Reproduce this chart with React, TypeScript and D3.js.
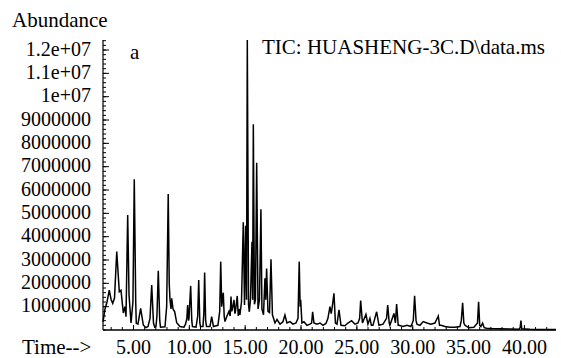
import React from "react";
import * as d3 from "d3";

// Retention time (min) and abundance (millions of counts)
const retentionTime = [
  2.27, 2.45, 2.63, 2.83, 3.0, 3.14, 3.3, 3.5, 3.73, 3.88, 4.09, 4.24, 4.33, 4.48, 4.6, 4.78, 4.95, 5.07, 5.2, 5.25,
  5.4, 5.64, 5.88, 6.12, 6.3, 6.48, 6.63, 6.79, 6.9, 7.01, 7.1, 7.22, 7.35, 7.42, 7.82, 7.97, 8.11, 8.2, 8.27, 8.36,
  8.42, 8.54, 8.69, 8.87, 9.16, 9.52, 9.66, 9.78, 9.85, 9.93, 9.97, 10.12, 10.22, 10.28, 10.6, 10.75, 10.84, 10.94, 11.0, 11.22,
  11.3, 11.37, 11.46, 11.54, 11.85, 12.0, 12.16, 12.56, 12.72, 12.81, 12.9, 12.98, 13.04, 13.12, 13.19, 13.37, 13.55, 13.66, 13.73, 13.8,
  13.86, 14.0, 14.08, 14.13, 14.29, 14.38, 14.44, 14.53, 14.67, 14.83, 14.94, 15.04, 15.12, 15.19, 15.3, 15.37, 15.47, 15.61, 15.67, 15.73,
  15.83, 15.92, 16.03, 16.15, 16.28, 16.41, 16.5, 16.64, 16.77, 16.84, 16.92, 17.04, 17.18, 17.31, 17.44, 17.67, 17.85, 18.12, 18.38, 18.56,
  18.74, 19.01, 19.28, 19.55, 19.73, 19.84, 19.92, 19.97, 20.08, 20.26, 20.53, 20.8, 20.95, 21.04, 21.16, 21.43, 21.7, 21.97, 22.23, 22.41,
  22.59, 22.7, 22.77, 22.95, 23.08, 23.22, 23.4, 23.58, 23.93, 24.2, 24.53, 24.83, 25.1, 25.25, 25.34, 25.5, 25.81, 25.99, 26.17, 26.3,
  26.44, 26.77, 26.98, 27.34, 27.66, 27.76, 27.9, 27.96, 28.32, 28.45, 28.56, 28.7, 28.77, 29.13, 29.49, 29.84, 30.05, 30.17, 30.3, 30.38,
  30.65, 30.94, 31.28, 31.63, 31.99, 32.29, 32.4, 32.53, 32.89, 33.33, 33.78, 34.23, 34.35, 34.47, 34.58, 34.68, 35.03, 35.48, 35.8, 35.9,
  36.0, 36.11, 36.26, 36.4, 36.62, 37.1, 37.81, 38.71, 39.51, 39.62, 39.69, 39.76, 40.5, 41.39, 42.29, 42.83,
];

const abundanceM = [
  0.35, 0.9, 1.2, 1.71, 1.3, 1.14, 1.37, 3.36, 1.64, 1.7, 0.73, 1.0, 0.57, 4.93, 1.5, 0.3, 1.2, 6.46, 1.2, 0.29,
  0.25, 0.93, 0.21, 0.1, 0.15, 0.5, 1.93, 0.3, 0.12, 0.15, 0.6, 2.54, 0.4, 0.12, 0.14, 1.0, 5.83, 2.0, 1.29, 0.9,
  1.36, 0.9, 0.78, 0.31, 0.15, 0.12, 0.25, 0.5, 1.07, 0.4, 0.5, 1.89, 0.4, 0.15, 0.12, 0.6, 2.14, 0.3, 0.15, 0.15,
  0.7, 2.46, 0.4, 0.15, 0.15, 0.57, 0.15, 0.2, 0.8, 2.93, 1.0, 1.4, 1.6, 0.6, 0.36, 0.6, 0.8, 0.6, 1.43, 0.8,
  0.9, 1.29, 0.7, 0.8, 1.46, 0.6, 0.9, 0.65, 1.2, 4.62, 1.07, 4.47, 1.3, 12.43, 1.1, 0.78, 1.29, 3.78, 1.3, 8.82,
  1.1, 1.3, 7.17, 0.9, 1.3, 5.17, 0.9, 0.65, 2.22, 1.3, 2.64, 0.8, 0.75, 3.03, 0.65, 0.3, 0.45, 0.25, 0.35, 0.64,
  0.3, 0.36, 0.25, 0.3, 0.5, 2.93, 1.0, 1.29, 0.3, 0.35, 0.2, 0.25, 0.3, 0.78, 0.3, 0.25, 0.3, 0.2, 0.28, 0.5,
  1.0, 0.7, 0.9, 1.57, 0.3, 0.25, 0.86, 0.2, 0.18, 0.3, 0.4, 0.25, 0.3, 0.5, 1.26, 0.3, 0.67, 0.25, 0.5, 0.2,
  0.2, 0.78, 0.2, 0.25, 0.5, 1.07, 0.3, 0.2, 0.71, 0.3, 1.11, 0.2, 0.2, 0.15, 0.2, 0.15, 0.4, 1.47, 0.4, 0.25,
  0.2, 0.36, 0.3, 0.25, 0.3, 0.6, 0.2, 0.2, 0.15, 0.12, 0.12, 0.15, 0.4, 1.17, 0.3, 0.2, 0.1, 0.12, 0.3, 1.21,
  0.2, 0.15, 0.29, 0.1, 0.08, 0.06, 0.05, 0.04, 0.03, 0.1, 0.4, 0.05, 0.03, 0.02, 0.02, 0.02,
];

const yTickValues = [1e6, 2e6, 3e6, 4e6, 5e6, 6e6, 7e6, 8e6, 9e6, 1e7, 1.1e7, 1.2e7];
const yTickLabels = [
  "1000000", "2000000", "3000000", "4000000", "5000000", "6000000",
  "7000000", "8000000", "9000000", "1e+07", "1.1e+07", "1.2e+07",
];
const xTickValues = [5, 10, 15, 20, 25, 30, 35, 40];
const xTickLabels = ["5.00", "10.00", "15.00", "20.00", "25.00", "30.00", "35.00", "40.00"];

const titleText = "TIC: HUASHENG-3C.D\\data.ms";
const yAxisTitle = "Abundance";
const xAxisTitle = "Time-->";
const panelLabel = "a";

export default function App() {
  const W = 561;
  const H = 358;
  const left = 103;
  const right = 556;
  const top = 40;
  const bottom = 330;

  const x = d3.scaleLinear().domain([2.27, 42.83]).range([left, right]);
  const y = d3.scaleLinear().domain([0, 12.43e6]).range([bottom, top]);

  const data = retentionTime.map((t, i) => [t, abundanceM[i] * 1e6] as [number, number]);
  const line = d3
    .line<[number, number]>()
    .x((d) => x(d[0]))
    .y((d) => y(Math.min(d[1], 12.43e6)));

  const minorY = d3.range(0, 12.41e6, 2e5);
  const minorX = d3.range(3, 43, 1);

  const txt: React.CSSProperties = { fontFamily: '"Liberation Serif", "Times New Roman", Times, serif' };

  return (
    <svg
      width={W}
      height={H}
      style={{ position: "absolute", left: 0, top: 0, background: "#fff" }}
    >
      <rect x={0} y={0} width={W} height={H} fill="#fff" />
      {/* trace */}
      <path d={line(data) || ""} fill="none" stroke="#000" strokeWidth={1.5} strokeLinejoin="miter" />

      {/* axes */}
      <line x1={left} x2={left} y1={top} y2={bottom} stroke="#000" strokeWidth={1.2} />
      <line x1={left} x2={right} y1={bottom} y2={bottom} stroke="#000" strokeWidth={1.4} />

      {minorY.map((v, i) => (
        <line key={"my" + i} x1={left} x2={left + 3} y1={y(v)} y2={y(v)} stroke="#000" strokeWidth={1} />
      ))}
      {yTickValues.map((v, i) => (
        <line key={"My" + i} x1={left} x2={left + 6} y1={y(v)} y2={y(v)} stroke="#000" strokeWidth={1} />
      ))}
      {minorX.map((v, i) => (
        <line key={"mx" + i} x1={x(v)} x2={x(v)} y1={bottom} y2={bottom - 3} stroke="#000" strokeWidth={1} />
      ))}
      {xTickValues.map((v, i) => (
        <line key={"Mx" + i} x1={x(v)} x2={x(v)} y1={bottom} y2={bottom - 5} stroke="#000" strokeWidth={1} />
      ))}

      {yTickValues.map((v, i) => (
        <text key={"ly" + i} x={91} y={y(v) + 5.5} textAnchor="end" fontSize={20} fill="#000" style={txt}>
          {yTickLabels[i]}
        </text>
      ))}
      {xTickValues.map((v, i) => (
        <text key={"lx" + i} x={x(v)} y={354} textAnchor="middle" fontSize={20} fill="#000" style={txt}>
          {xTickLabels[i]}
        </text>
      ))}

      <text x={12} y={27} fontSize={21} fill="#000" style={txt}>{yAxisTitle}</text>
      <text x={22} y={354} fontSize={21} fill="#000" style={txt}>{xAxisTitle}</text>
      <text x={130} y={59} fontSize={21} fill="#000" style={txt}>{panelLabel}</text>
      <text x={262} y={53.5} fontSize={21} fill="#000" style={txt}>{titleText}</text>
    </svg>
  );
}
